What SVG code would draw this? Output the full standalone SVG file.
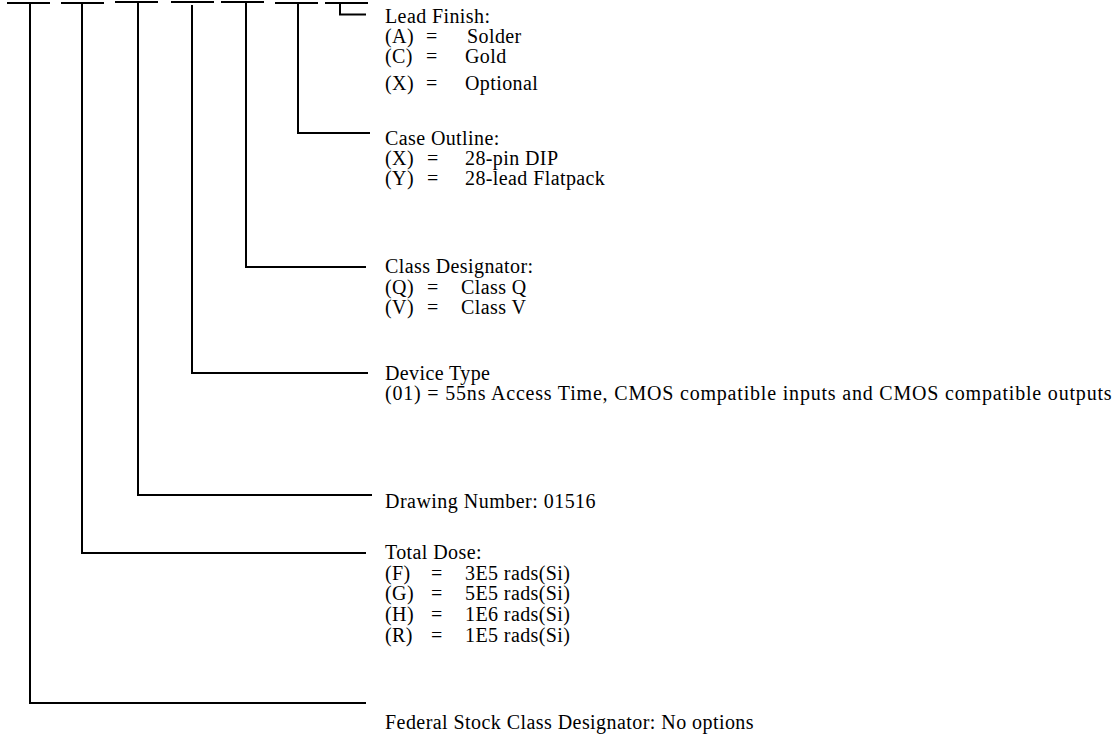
<svg xmlns="http://www.w3.org/2000/svg" width="1115" height="736" viewBox="0 0 1115 736">
<style>
.ln{stroke:#000;stroke-width:2;fill:none}
text{font-family:"Liberation Serif","Times New Roman",serif;font-size:20px;fill:#000;letter-spacing:0.4px}
</style>
<rect width="1115" height="736" fill="#fff"/>
<g id="connectors">
<path class="ln" d="M7 3H50M61 3H104M115 2H158M171 2H214M221 2H264M275 3H318M325 3H368"/>
<path class="ln" d="M340 3V14.5H366"/>
<path class="ln" d="M298 3V133H370"/>
<path class="ln" d="M246 3V267H366"/>
<path class="ln" d="M192 5V373H368"/>
<path class="ln" d="M138 3V495H372"/>
<path class="ln" d="M82 3V553H366"/>
<path class="ln" d="M30 3V703H366"/>
</g>
<g id="lead-finish">
<text x="385" y="23">Lead Finish:</text>
<text x="385" y="43">(A)</text><text x="426" y="43">=</text><text x="467" y="43">Solder</text>
<text x="385" y="63">(C)</text><text x="426" y="63">=</text><text x="465" y="63">Gold</text>
<text x="385" y="90">(X)</text><text x="426" y="90">=</text><text x="465" y="90">Optional</text>
</g>
<g id="case-outline">
<text x="385" y="145">Case Outline:</text>
<text x="385" y="165">(X)</text><text x="427" y="165">=</text><text x="465" y="165">28-pin DIP</text>
<text x="385" y="185">(Y)</text><text x="427" y="185">=</text><text x="465" y="185">28-lead Flatpack</text>
</g>
<g id="class-designator">
<text x="385" y="273">Class Designator:</text>
<text x="385" y="293.5">(Q)</text><text x="427" y="293.5">=</text><text x="461" y="293.5">Class Q</text>
<text x="385" y="314">(V)</text><text x="427" y="314">=</text><text x="461" y="314">Class V</text>
</g>
<g id="device-type">
<text x="385" y="380">Device Type</text>
<text x="385" y="400" textLength="727">(01) = 55ns Access Time, CMOS compatible inputs and CMOS compatible outputs</text>
</g>
<g id="drawing-number">
<text x="385" y="508" textLength="211">Drawing Number: 01516</text>
</g>
<g id="total-dose">
<text x="385" y="559">Total Dose:</text>
<text x="385" y="580">(F)</text><text x="431" y="580">=</text><text x="465" y="580">3E5 rads(Si)</text>
<text x="385" y="600">(G)</text><text x="431" y="600">=</text><text x="465" y="600">5E5 rads(Si)</text>
<text x="385" y="621">(H)</text><text x="431" y="621">=</text><text x="465" y="621">1E6 rads(Si)</text>
<text x="385" y="642">(R)</text><text x="431" y="642">=</text><text x="465" y="642">1E5 rads(Si)</text>
</g>
<g id="federal-stock">
<text x="385" y="729" textLength="369">Federal Stock Class Designator: No options</text>
</g>
</svg>
